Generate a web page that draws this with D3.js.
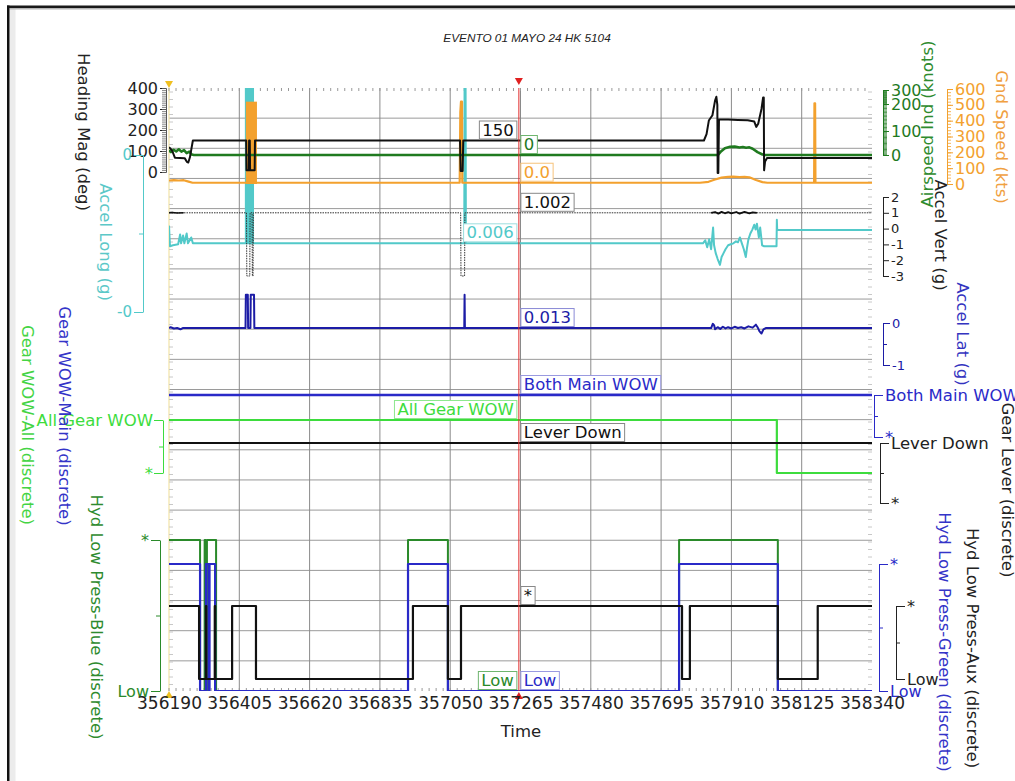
<!DOCTYPE html>
<html><head><meta charset="utf-8">
<script src="https://cdn.jsdelivr.net/npm/d3@7"></script>
<style>
body{margin:0;background:#fff;}
svg{display:block;font-family:"DejaVu Sans",Verdana,sans-serif;}
</style></head><body>
<svg id="c" width="1015" height="781"></svg>
<script>
// ---------------- DATA ----------------
const chartTitle = "EVENTO 01 MAYO 24 HK 5104";
const xTitle = "Time";
const timeTicks = [356190,356405,356620,356835,357050,357265,357480,357695,357910,358125,358340];
const cursorTime = 357260;

const headingData = [[356190,118],[356194,112],[356200,100],[356208,68],[356238,66],[356245,48],[356249,45],[356254,70],[356263,150],
 [356426,150],[356427,8],[356434,8],[356435,150],[356437,150],[356438,8],[356452,8],[356453,150],
 [357080,150],[357082,5],[357088,5],[357090,150],
 [357826,150],[357834,180],[357841,245],[357852,270],[357860,340],[357864,358],[357867,320],[357868,-5],[357870,-5],[357872,250],
 [357900,250],[357930,248],[357960,246],[357980,240],[357986,215],[357992,230],[358002,300],[358007,355],[358009,355],[358010,8],[358013,50],[358019,67],[358340,67]];

const airspeedData = [[356190,20],[356196,12],[356204,22],[356212,15],[356220,24],[356228,14],[356236,20],[356244,8],[356252,14],[356260,2],[356266,0],
 [357869,0],[357878,15],[357890,28],[357906,34],[357920,35],[357935,31],[357945,33],[357955,30],[357965,32],[357975,26],[357990,12],[358005,2],[358013,0],[358340,0]];

const gndSpeedData = [[356190,22],[356205,25],[356220,22],[356235,24],[356250,15],[356262,8],
 [357079,8],[357081,455],[357083,520],[357086,520],[357087,8],
 [357814,8],[357840,14],[357860,28],[357880,40],[357900,45],[357915,46],[357935,44],[357950,45],[357965,42],[357985,25],[358005,12],[358020,8],
 [358163,8],[358164,510],[358166,510],[358167,8],[358340,8]];
const gndSpeedBurst = [356425,356459,0,520];   // start, end, low, high

const accelLongData = [[356190,0.04],[356193,-0.065],[356202,-0.06],[356218,-0.055],[356224,-0.005],[356227,-0.05],[356233,-0.01],[356237,-0.05],[356244,0.0],[356248,-0.05],[356258,-0.02],[356263,-0.05],
 [357093,-0.05],[357094,0.8],[357097,0.8],[357098,-0.05],
 [357823,-0.05],[357830,-0.035],[357836,-0.07],[357842,-0.03],[357848,-0.08],[357854,0.03],[357857,-0.06],[357862,-0.1],[357868,-0.13],[357875,-0.16],[357880,-0.12],[357886,-0.1],[357892,-0.08],[357900,-0.06],[357908,-0.055],[357916,-0.05],[357924,-0.04],[357930,-0.045],[357936,-0.02],[357942,-0.05],[357948,-0.08],[357954,-0.12],[357958,-0.07],[357962,-0.03],[357968,0.0],[357974,0.02],[357980,0.045],[357984,0.02],[357988,0.05],[357994,-0.02],[357998,0.03],[358004,-0.06],[358010,-0.065],[358048,-0.065],[358049,0.07],[358050,0.018],[358340,0.018]];
const accelLongBurst = [356422,356450,-0.05,0.8];

const accelVertData = [[356190,1],[356427,1],[356428,-3],[356437,-3],[356438,1],[356444,1],[356445,-3],[356447,-3],[356448,1],
 [357082,1],[357083,-3],[357094,-3],[357095,1],[358340,1]];
const accelVertSolid = [[356190,1],[356200,1.02],[356215,0.99],[356235,1]];
const accelVertNoise = [[357848,1.0],[357860,1.05],[357870,0.95],[357880,1.06],[357890,0.97],[357900,1.04],[357910,0.96],[357925,1.05],[357935,0.95],[357950,1.06],[357965,0.97],[357975,1.03],[357988,1.0]];

const accelLatData = [[356190,-0.12],[356195,-0.1],[356205,-0.13],[356215,-0.12],[356225,-0.15],[356232,-0.12],
 [356424,-0.12],[356425,0.67],[356431,0.67],[356432,-0.12],[356439,-0.12],[356440,0.67],[356450,0.67],[356451,-0.12],
 [357093,-0.12],[357094,0.67],[357095,-0.12],
 [357848,-0.12],[357853,-0.02],[357857,-0.05],[357860,-0.15],[357868,-0.1],[357876,-0.14],[357884,-0.09],[357892,-0.13],[357900,-0.1],[357910,-0.13],[357920,-0.09],[357930,-0.12],[357940,-0.1],[357950,-0.13],[357962,-0.08],[357975,-0.11],[357985,-0.04],[357990,-0.1],[357996,-0.2],[358002,-0.25],[358008,-0.15],[358015,-0.12],[358340,-0.12]];

const wowMainData = [[356190,1],[358340,1]];
const wowAllData = [[356190,1],[358049,0],[358340,0]];
const leverData = [[356190,1],[358340,1]];
const hydBlueData = [[356190,1],[356285,0],[356299,1],[356302,0],[356306,1],[356334,0],[356921,1],[357043,0],[357750,1],[358052,0],[358340,0]];
const hydGreenData = [[356190,1],[356285,0],[356303,1],[356311,0],[356314,1],[356331,0],[356921,1],[357043,0],[357750,1],[358052,0],[358340,0]];
const hydAuxData = [[356190,1],[356282,0],[356303,1],[356304,0],[356330,1],[356331,0],[356383,1],[356456,0],[356936,1],[357043,0],[357083,1],[357759,0],[357783,1],[358052,0],[358174,1],[358340,1]];

const headingTicks = [0,100,200,300,400];
const airspeedTicks = [0,100,200,300];
const gndSpeedTicks = [0,100,200,300,400,500,600];
const accelVertTicks = [-3,-2,-1,0,1,2];
const accelLongTicks = [0.4,0,-0.4], accelLongLabels = ["0","","-0"];
const accelLatTicks = [0,-0.5,-1], accelLatLabels = ["0","","-1"];
const discTicks = [1,0.5,0];
const wowMainLabels = ["Both Main WOW","","*"];
const wowAllLabels = ["All Gear WOW","","*"];
const leverLabels = ["Lever Down","","*"];
const hydLabels = ["*","","Low"];

const readoutTexts = {heading:"150", airspeed:"0", gnd:"0.0", vert:"1.002", long:"0.006", lat:"0.013",
  wowMain:"Both Main WOW", wowAll:"All Gear WOW", lever:"Lever Down", hydBlue:"Low", hydGreen:"Low", hydAux:"*"};

// ---------------- COLORS ----------------
const C = {black:"#111", dkgreen:"#1f7a1f", hydgreen:"#2a8a2a", orange:"#f3a12e", cyan:"#52c9c9",
  navy:"#1c1ca6", blue:"#2a2ac8", lime:"#3ddc3d", grid:"#9a9a9a"};

// ---------------- LAYOUT ----------------
const svg = d3.select("#c");
const X0=169, X1=872, YT=88, YB=691;
const x = d3.scaleLinear().domain([timeTicks[0], timeTicks[timeTicks.length-1]]).range([X0,X1]);

const yHead = d3.scaleLinear().domain([0,400]).range([172,88]);
const yAir = d3.scaleLinear().domain([0,100,200,300]).range([155,131,104,90]);
const yGnd = d3.scaleLinear().domain([0,600]).range([184,89]);
const yLong = d3.scaleLinear().domain([-0.4,0.4]).range([312,155]);
const yVert = d3.scaleLinear().domain([-3,2]).range([276,197]);
const yLat = d3.scaleLinear().domain([-1,0]).range([365,323]);
const yWowMain = d3.scaleLinear().domain([0,1]).range([437,395]);
const yWowAll = d3.scaleLinear().domain([0,1]).range([473,420]);
const yLever = d3.scaleLinear().domain([0,1]).range([503,443]);
const yHydBlue = d3.scaleLinear().domain([0,1]).range([691,540]);
const yHydGreen = d3.scaleLinear().domain([0,1]).range([691,564]);
const yHydAux = d3.scaleLinear().domain([0,1]).range([679,606]);

// frame
svg.append("rect").attr("x",0).attr("y",0).attr("width",1015).attr("height",781).attr("fill","#fff");
svg.append("rect").attr("x",9.5).attr("y",8).attr("width",6).attr("height",773).attr("fill","#ececec");
svg.append("rect").attr("x",7).attr("y",5.5).attr("width",1008).attr("height",2.5).attr("fill","#1a1a1a");
svg.append("rect").attr("x",9.5).attr("y",8).attr("width",1005.5).attr("height",1.5).attr("fill","#b5b5b5");
svg.append("rect").attr("x",7).attr("y",5.5).attr("width",2.5).attr("height",776).attr("fill","#111");

// title
svg.append("text").attr("x",527).attr("y",42).attr("text-anchor","middle")
  .style("font-family","'Liberation Sans',Arial,sans-serif").style("font-style","italic").style("font-size","11.8px")
  .attr("fill","#222").text(chartTitle);

// grid
const grid = svg.append("g");
for(let k=1;k<20;k++){
  const yy = YT + k*(YB-YT)/20;
  grid.append("line").attr("x1",X0).attr("x2",X1).attr("y1",yy).attr("y2",yy).attr("stroke",C.grid).attr("stroke-width",1);
}
timeTicks.slice(1,-1).forEach(t=>{
  grid.append("line").attr("x1",x(t)).attr("x2",x(t)).attr("y1",YT).attr("y2",YB).attr("stroke","#8a8a8a").attr("stroke-width",1);
});
// left edge (yellow) and minor edge ticks
grid.append("line").attr("x1",X0).attr("x2",X0).attr("y1",YT).attr("y2",YB).attr("stroke","#f2e3a6").attr("stroke-width",1.2);
for(let yy=YT+4; yy<YB; yy+=7.5){
  grid.append("line").attr("x1",X0).attr("x2",X0+4).attr("y1",yy).attr("y2",yy).attr("stroke","#c8c8c8");
  grid.append("line").attr("x1",X1-4).attr("x2",X1).attr("y1",yy).attr("y2",yy).attr("stroke","#c8c8c8");
}
const minorT = d3.range(timeTicks[0], timeTicks[timeTicks.length-1], (timeTicks[1]-timeTicks[0])/10);
minorT.forEach(t=>{
  grid.append("line").attr("x1",x(t)).attr("x2",x(t)).attr("y1",YT).attr("y2",YT+3).attr("stroke","#999");
  grid.append("line").attr("x1",x(t)).attr("x2",x(t)).attr("y1",YB-3).attr("y2",YB).attr("stroke","#999");
});

// clip
svg.append("clipPath").attr("id","plotclip").append("rect").attr("x",X0).attr("y",YT).attr("width",X1-X0).attr("height",YB-YT);
const plot = svg.append("g").attr("clip-path","url(#plotclip)");

function drawLine(data, ys, color, w, opts={}){
  const gen = d3.line().x(d=>x(d[0])).y(d=>ys(d[1]));
  if(opts.step) gen.curve(d3.curveStepAfter);
  const p = plot.append("path").attr("d",gen(data)).attr("fill","none").attr("stroke",color).attr("stroke-width",w)
    .attr("stroke-linejoin","round");
  if(opts.dash) p.attr("stroke-dasharray",opts.dash);
  return p;
}
function drawBurst(b, ys, color){
  plot.append("rect").attr("x",x(b[0])).attr("width",x(b[1])-x(b[0]))
    .attr("y",ys(b[3])).attr("height",ys(b[2])-ys(b[3])).attr("fill",color);
}

// series
drawBurst(accelLongBurst, yLong, C.cyan);
drawLine(accelLongData, yLong, C.cyan, 2);
drawLine(accelVertData, yVert, "#333", 1, {dash:"1.5,1"});
drawLine(accelVertSolid, yVert, "#111", 1.6);
drawLine(accelVertNoise, yVert, "#111", 1.8);
drawLine(accelLatData, yLat, C.navy, 2);
drawBurst(gndSpeedBurst, yGnd, C.orange);
drawLine(gndSpeedData, yGnd, C.orange, 2.2);
drawLine(airspeedData, yAir, C.dkgreen, 2.6);
drawLine(headingData, yHead, C.black, 2);
drawLine(wowMainData, yWowMain, C.blue, 2.5, {step:true});
drawLine(wowAllData, yWowAll, C.lime, 2.2, {step:true});
drawLine(leverData, yLever, C.black, 2.2, {step:true});
drawLine(hydBlueData, yHydBlue, C.hydgreen, 2, {step:true});
drawLine(hydGreenData, yHydGreen, C.blue, 2.2, {step:true});
drawLine(hydAuxData, yHydAux, C.black, 2.2, {step:true});

// cursor
svg.append("line").attr("x1",x(cursorTime)).attr("x2",x(cursorTime)).attr("y1",YT).attr("y2",YB).attr("stroke","#e02a2a").attr("stroke-width",1);
const tri = (cx,cy,down,col)=> svg.append("path")
  .attr("d", down? `M${cx-4},${cy-7}L${cx+4},${cy-7}L${cx},${cy}Z` : `M${cx-4},${cy+7}L${cx+4},${cy+7}L${cx},${cy}Z`).attr("fill",col);
tri(x(cursorTime), YT-3, true, "#e02020");
tri(x(cursorTime), YB+1, false, "#e02020");
tri(X0, YT, true, "#f0c020");
tri(X0, YB, false, "#f0c020");

// axes
function drawAxis(cfg){
  const g = svg.append("g").attr("transform",`translate(${cfg.x},0)`);
  if(cfg.minor){
    const mg = svg.append("g").attr("transform",`translate(${cfg.x},0)`);
    mg.call((cfg.side==="L"?d3.axisLeft(cfg.scale):d3.axisRight(cfg.scale)).tickValues(cfg.minor).tickSize(4).tickSizeOuter(0).tickFormat(""));
    mg.selectAll("line,path").attr("stroke",cfg.minorColor||cfg.color).attr("stroke-width",0.8);
  }
  const labels = cfg.labels || cfg.ticks.map(String);
  const ax = (cfg.side==="L"?d3.axisLeft(cfg.scale):d3.axisRight(cfg.scale))
     .tickValues(cfg.ticks).tickFormat((d,i)=>labels[i]).tickSize(cfg.tick||7).tickSizeOuter(0).tickPadding(cfg.pad==null?2:cfg.pad);
  g.call(ax);
  g.attr("font-family",null).attr("font-size",null);
  g.selectAll("text").attr("fill",cfg.color).style("font-size",cfg.fs+"px");
  g.selectAll("line,path").attr("stroke",cfg.color);
  g.selectAll(".tick").filter((d,i)=>labels[i]==="").select("line").attr("x2",(cfg.side==="L"?-1:1)*4);
}
drawAxis({side:"L",x:166,scale:yHead,ticks:headingTicks,color:"#222",fs:16,tick:6,minor:d3.range(0,401,10),minorColor:"#666"});
drawAxis({side:"L",x:143,scale:yLong,ticks:accelLongTicks,labels:accelLongLabels,color:C.cyan,fs:15,tick:9});
drawAxis({side:"L",x:163,scale:yWowAll,ticks:discTicks,labels:wowAllLabels,color:C.lime,fs:16.5,tick:9,pad:1});
drawAxis({side:"L",x:160,scale:yHydBlue,ticks:discTicks,labels:hydLabels,color:C.hydgreen,fs:16,tick:9});

drawAxis({side:"R",x:883,scale:yAir,ticks:airspeedTicks,color:C.dkgreen,fs:16,tick:6,minor:d3.range(0,301,5)});
drawAxis({side:"R",x:947,scale:yGnd,ticks:gndSpeedTicks,color:C.orange,fs:16,tick:6,minor:d3.range(0,601,20)});
drawAxis({side:"R",x:883,scale:yVert,ticks:accelVertTicks,color:"#222",fs:13,tick:6});
drawAxis({side:"R",x:883,scale:yLat,ticks:accelLatTicks,labels:accelLatLabels,color:C.navy,fs:13,tick:7});
drawAxis({side:"R",x:874,scale:yWowMain,ticks:discTicks,labels:wowMainLabels,color:C.blue,fs:16.5,tick:9});
drawAxis({side:"R",x:880,scale:yLever,ticks:discTicks,labels:leverLabels,color:"#222",fs:16.5,tick:9});
drawAxis({side:"R",x:879,scale:yHydGreen,ticks:discTicks,labels:hydLabels,color:C.blue,fs:16,tick:9});
drawAxis({side:"R",x:896,scale:yHydAux,ticks:discTicks,labels:hydLabels,color:"#222",fs:16,tick:9});

// x axis labels
const xg = svg.append("g").attr("transform",`translate(0,${YB})`);
xg.call(d3.axisBottom(x).tickValues(timeTicks).tickFormat(d3.format("d")).tickSize(0).tickPadding(6));
xg.attr("font-family",null).attr("font-size",null);
xg.select(".domain").remove();
xg.selectAll("text").attr("fill","#222").style("font-size","17px");
svg.append("text").attr("x",521).attr("y",737).attr("text-anchor","middle").style("font-size","16.5px").attr("fill","#222").text(xTitle);

// axis titles
const titles = [
 ["Heading Mag (deg)",84,132,90,"#222"],
 ["Accel Long (g)",106,242,90,"#5cc8c8"],
 ["Gear WOW-Main (discrete)",65,416,90,"#3434c8"],
 ["Gear WOW-All (discrete)",28,425,90,"#44d444"],
 ["Hyd Low Press-Blue (discrete)",97,617,90,"#2e8b2e"],
 ["Airspeed Ind (knots)",927,124,-90,"#2e8b2e"],
 ["Gnd Speed (kts)",1002,137,90,"#f0a040"],
 ["Accel Vert (g)",941,235,90,"#222"],
 ["Accel Lat (g)",963,334,90,"#3434c0"],
 ["Gear Lever (discrete)",1008,490,90,"#222"],
 ["Hyd Low Press-Green (discrete)",945,642,90,"#3434c8"],
 ["Hyd Low Press-Aux (discrete)",973,648,90,"#222"]
];
titles.forEach(t=>{
  svg.append("text").attr("transform",`translate(${t[1]},${t[2]}) rotate(${t[3]})`)
    .attr("text-anchor","middle").attr("dy","0.35em").style("font-size","16.5px").attr("fill",t[4]).text(t[0]);
});

// readout boxes at cursor
function valueAt(data,t){ let v=data[0][1]; for(const d of data){ if(d[0]<=t) v=d[1]; } return v; }
const readouts = [
 ["heading",headingData,yHead,"L","#111","#888"],
 ["airspeed",airspeedData,yAir,"R",C.dkgreen,"#6fb56f"],
 ["gnd",gndSpeedData,yGnd,"R",C.orange,"#f6c27a"],
 ["vert",accelVertData,yVert,"R","#111","#888"],
 ["long",accelLongData,yLong,"L",C.cyan,"#9fdede"],
 ["lat",accelLatData,yLat,"R",C.navy,"#8a8ad6"],
 ["wowMain",wowMainData,yWowMain,"R",C.blue,"#9a9ae0"],
 ["wowAll",wowAllData,yWowAll,"L",C.lime,"#8ee88e"],
 ["lever",leverData,yLever,"R","#111","#888"],
 ["hydBlue",hydBlueData,yHydBlue,"L",C.hydgreen,"#6fb56f"],
 ["hydGreen",hydGreenData,yHydGreen,"R",C.blue,"#9a9ae0"],
 ["hydAux",hydAuxData,yHydAux,"R","#111","#888"]
];
const cx = x(cursorTime);
readouts.forEach(r=>{
  const v = valueAt(r[1],cursorTime);
  const bottom = r[2](v) - 1.5, h = 18;
  const g = svg.append("g");
  const rect = g.append("rect").attr("fill","#fff").attr("stroke",r[5]).attr("stroke-width",1);
  const txt = g.append("text").style("font-size","16.5px").attr("fill",r[4]).text(readoutTexts[r[0]]);
  const w = txt.node().getComputedTextLength() + 6;
  const left = r[3]==="R" ? cx+2 : cx-2-w;
  rect.attr("x",left).attr("y",bottom-h).attr("width",w).attr("height",h);
  txt.attr("x",left+3).attr("y",bottom-3.5);
});
</script>
</body></html>
